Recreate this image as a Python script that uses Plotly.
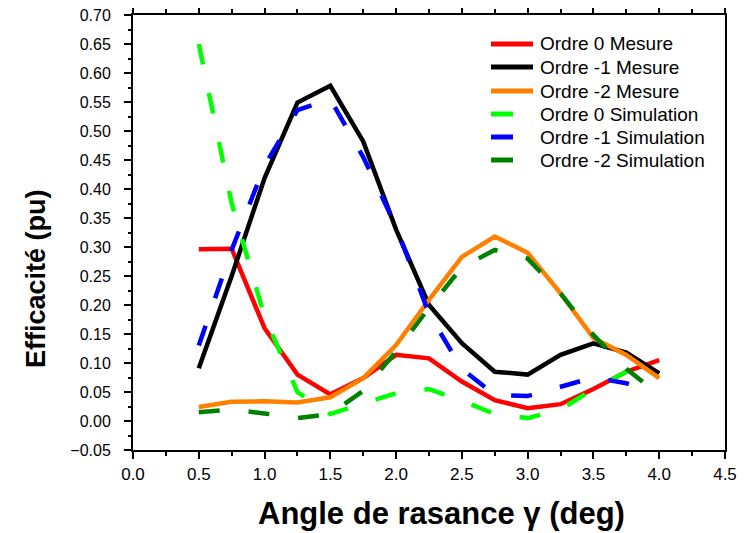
import plotly.graph_objects as go

# ---- data ----
angle_mesure = [0.5, 0.75, 1.0, 1.25, 1.5, 1.75, 2.0, 2.25, 2.5, 2.75, 3.0, 3.25, 3.5, 3.75, 4.0]
ordre0_mesure = [0.296, 0.297, 0.160, 0.080, 0.046, 0.074, 0.114, 0.108, 0.068, 0.036, 0.022, 0.029, 0.055, 0.085, 0.105]
ordre1_mesure = [0.091, 0.250, 0.419, 0.549, 0.578, 0.482, 0.330, 0.200, 0.134, 0.085, 0.080, 0.114, 0.134, 0.118, 0.082]
ordre2_mesure = [0.024, 0.033, 0.034, 0.032, 0.041, 0.074, 0.131, 0.209, 0.283, 0.318, 0.290, 0.220, 0.143, 0.114, 0.074]

angle_sim = [0.5, 0.75, 1.0, 1.25, 1.5, 1.75, 2.0, 2.25, 2.5, 2.75, 3.0, 3.25, 3.5, 3.75, 3.9]
ordre0_sim = [0.650, 0.375, 0.180, 0.050, 0.012, 0.030, 0.048, 0.055, 0.035, 0.012, 0.005, 0.020, 0.055, 0.085, 0.100]
ordre1_sim = [0.130, 0.295, 0.440, 0.536, 0.555, 0.455, 0.335, 0.185, 0.090, 0.045, 0.043, 0.060, 0.075, 0.065, 0.053]
ordre2_sim = [0.015, 0.020, 0.013, 0.005, 0.012, 0.052, 0.120, 0.195, 0.265, 0.295, 0.280, 0.220, 0.148, 0.090, 0.063]

x_ticks = [0.0, 0.5, 1.0, 1.5, 2.0, 2.5, 3.0, 3.5, 4.0, 4.5]

FONT = "Arial, Liberation Sans, sans-serif"

# page body has an 8px margin: figure pixel (x, y) lands at window (x+8, y+8)
OFF = 8
PLOT_L, PLOT_R, PLOT_T, PLOT_B = 133, 725, 15, 450  # in window pixels


def px(xw):
    return (xw - PLOT_L) / (PLOT_R - PLOT_L)


def py(yw):
    return (PLOT_B - yw) / (PLOT_B - PLOT_T)


fig = go.Figure()

solid = [
    ("Ordre 0 Mesure", ordre0_mesure, "#FF0000"),
    ("Ordre -1 Mesure", ordre1_mesure, "#000000"),
    ("Ordre -2 Mesure", ordre2_mesure, "#FF8000"),
]
dashed = [
    ("Ordre 0 Simulation", ordre0_sim, "#00FF00"),
    ("Ordre -1 Simulation", ordre1_sim, "#0000FF"),
    ("Ordre -2 Simulation", ordre2_sim, "#008000"),
]

for name, ys, col in solid:
    fig.add_trace(go.Scatter(x=angle_mesure, y=ys, mode="lines", name=name,
                             line=dict(color=col, width=4.5)))
for name, ys, col in dashed:
    fig.add_trace(go.Scatter(x=angle_sim, y=ys, mode="lines", name=name,
                             line=dict(color=col, width=4.5, dash="21px,29px")))

# manual legend (entries drawn at the reference's positions)
row_y = [44, 67, 91, 114, 137, 160]
entries = [(n, c, False) for n, _, c in solid] + [(n, c, True) for n, _, c in dashed]
for (name, col, is_dash), yw in zip(entries, row_y):
    x_end = 513 if is_dash else 533
    fig.add_shape(type="line", xref="paper", yref="paper",
                  x0=px(491), x1=px(x_end), y0=py(yw), y1=py(yw),
                  line=dict(color=col, width=5))
    fig.add_annotation(text=name, xref="paper", yref="paper",
                       x=px(538), y=py(yw), xanchor="left", yanchor="middle",
                       showarrow=False, font=dict(family=FONT, size=19, color="black"))

fig.update_xaxes(
    range=[0, 4.5], tickvals=x_ticks, tickformat=".1f", automargin=False,
    showgrid=False, zeroline=False,
    showline=True, linecolor="black", linewidth=2, mirror="ticks",
    ticks="outside", ticklen=7, tickwidth=2, tickcolor="black",
    minor=dict(dtick=0.25, ticks="outside", ticklen=4, tickwidth=1.5, tickcolor="black"),
    tickfont=dict(family=FONT, size=17, color="black"),
    ticklabelstandoff=1, ticklabeloverflow="allow",
)
fig.update_yaxes(
    range=[-0.05, 0.70], dtick=0.05, tick0=0, tickformat=".2f", automargin=False,
    showgrid=False, zeroline=False,
    showline=True, linecolor="black", linewidth=2, mirror=True,
    ticks="outside", ticklen=7, tickwidth=2, tickcolor="black",
    minor=dict(dtick=0.025, ticks="outside", ticklen=3, tickwidth=1.5, tickcolor="black"),
    tickfont=dict(family=FONT, size=16, color="black"),
    ticklabelstandoff=10, ticklabeloverflow="allow",
)

fig.add_annotation(text="<b>Efficacité (pu)</b>", xref="paper", yref="paper",
                   x=px(36), y=py(279), textangle=-90,
                   showarrow=False, font=dict(family=FONT, size=27, color="black"),
                   xanchor="center", yanchor="middle")
fig.add_annotation(text="<b>Angle de rasance γ (deg)</b>", xref="paper", yref="paper",
                   x=px(441), y=py(513),
                   showarrow=False, font=dict(family=FONT, size=31, color="black"),
                   xanchor="center", yanchor="middle")

W, H = 749 - OFF, 533 - OFF
fig.update_layout(
    width=W, height=H,
    margin=dict(l=PLOT_L - OFF, r=W - (PLOT_R - OFF), t=PLOT_T - OFF,
                b=H - (PLOT_B - OFF), autoexpand=False),
    paper_bgcolor="white", plot_bgcolor="white",
    showlegend=False,
    font=dict(family=FONT, color="black"),
)

fig.write_html("out.html")
